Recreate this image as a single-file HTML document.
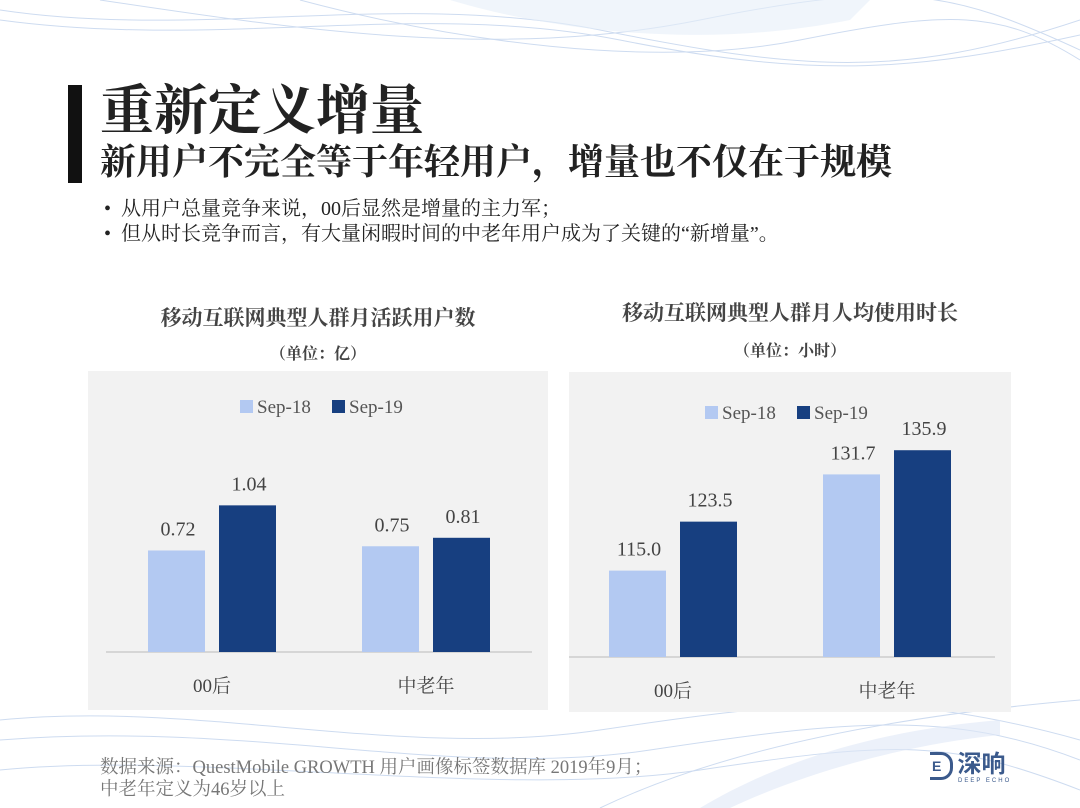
<!DOCTYPE html>
<html><head><meta charset="utf-8"><style>
body{margin:0;width:1080px;height:808px;overflow:hidden;background:#fff;position:relative;font-family:"Liberation Serif","Noto Serif CJK SC",serif;color:#222}
.abs{position:absolute}
</style></head><body>
<svg class="abs" style="left:0;top:0" width="1080" height="808">
<g fill="none" stroke="#b9cdea" stroke-width="1" opacity="0.7">
<path d="M0 10 C200 40 400 -10 600 30 S900 80 1080 20"/>
<path d="M0 20 C220 50 420 0 620 40 S920 70 1080 35"/>
<path d="M100 0 C300 30 500 60 700 20 S950 -10 1080 50"/>
<path d="M300 0 C450 40 650 70 800 40 S1000 10 1080 60"/>
<path d="M0 720 C200 700 400 760 600 730 S900 690 1080 740"/>
<path d="M0 740 C250 720 450 780 650 750 S950 710 1080 760"/>
<path d="M0 770 C200 750 500 800 700 770 S950 740 1080 790"/>
<path d="M600 808 C700 760 850 720 1080 700"/>
</g>
<path d="M700 808 C780 760 880 730 1000 720 L1000 735 C900 745 800 775 730 808Z" fill="#dfe8f6" opacity="0.6"/>
<path d="M450 0 C550 30 700 50 850 20 L870 0Z" fill="#e6eef9" opacity="0.6"/>
</svg>
<div class="abs" style="left:68px;top:85px;width:14px;height:98px;background:#111"></div>
<div class="abs" style="left:100px;top:80px;font-size:54px;font-weight:bold;line-height:62px">重新定义增量</div>
<div class="abs" style="left:100px;top:140px;font-size:36px;font-weight:bold;line-height:44px">新用户不完全等于年轻用户，增量也不仅在于规模</div>
<div class="abs" style="left:104px;top:196px;font-size:20px;line-height:26px">•&nbsp;&nbsp;从用户总量竞争来说，00后显然是增量的主力军；</div>
<div class="abs" style="left:104px;top:221px;font-size:20px;line-height:26px">•&nbsp;&nbsp;但从时长竞争而言，有大量闲暇时间的中老年用户成为了关键的“新增量”。</div>
<div class="abs" style="left:88px;width:460px;top:302px;text-align:center;font-size:21px;font-weight:bold;color:#444">移动互联网典型人群月活跃用户数</div>
<div class="abs" style="left:88px;width:460px;top:341px;text-align:center;font-size:16px;font-weight:bold;color:#444">（单位：亿）</div>
<div class="abs" style="left:569px;width:442px;top:297px;text-align:center;font-size:21px;font-weight:bold;color:#444">移动互联网典型人群月人均使用时长</div>
<div class="abs" style="left:569px;width:442px;top:338px;text-align:center;font-size:16px;font-weight:bold;color:#444">（单位：小时）</div>
<svg class="abs" id="c" style="left:0;top:0" width="1080" height="808"></svg>
<div class="abs" style="left:100px;top:757px;font-size:18.5px;line-height:22px;color:#777">数据来源：QuestMobile GROWTH 用户画像标签数据库 2019年9月；<br>中老年定义为46岁以上</div>
<div class="abs" style="left:930px;top:752px;color:#3b5a8c;font-family:'Liberation Sans','Noto Sans CJK SC',sans-serif">
<span style="font-weight:bold;border:3px solid #3b5a8c;border-left:none;border-radius:0 12px 12px 0;padding:0 2px;line-height:22px;display:inline-block;width:16px;height:22px;vertical-align:top;font-size:14px">E</span>
<span style="font-size:24px;font-weight:bold;vertical-align:top;line-height:26px">深响</span>
<div style="font-size:6px;letter-spacing:2px;position:absolute;left:28px;top:26px;white-space:nowrap">DEEP ECHO</div></div>
<script>
const categories=["00后","中老年"];
const seriesNames=["Sep-18","Sep-19"];
const leftS18=[0.72,0.75];
const leftS19=[1.04,0.81];
const leftLabels18=["0.72","0.75"];
const leftLabels19=["1.04","0.81"];
const rightS18=[115.0,131.7];
const rightS19=[123.5,135.9];
const rightLabels18=["115.0","131.7"];
const rightLabels19=["123.5","135.9"];
const colors=["#b3c9f2","#173f80"];
const svg=document.getElementById('c');
const NS='http://www.w3.org/2000/svg';
function mk(t,a){const e=document.createElementNS(NS,t);for(const k in a)e.setAttribute(k,a[k]);svg.appendChild(e);return e;}
function chart(o){
  const bg=mk('rect',{x:o.x,y:o.y,width:o.w,height:o.h,fill:'#f2f2f2'});
  
  
  const yScale=v=>o.base-(v-o.min)*o.k;
  const ax=mk('line',{x1:o.x+o.axL,x2:o.x+o.w-o.axR,y1:o.base,y2:o.base,stroke:'#ccc','stroke-width':1.5});
  
  
  seriesNames.forEach((s,i)=>{
    const lx=o.legX+i*92;
    const r=mk('rect',{x:lx,y:o.legY-13,width:13,height:13,fill:colors[i]});
    
    
    const t=mk('text',{x:lx+17,y:o.legY,'font-size':19,fill:'#555'});
    t.textContent=s;
    
    
  });
  const series=[o.s18,o.s19],labs=[o.l18,o.l19];
  categories.forEach((c,ci)=>{
    series.forEach((sv,si)=>{
      const bx=o.catX[ci]+si*71, y=yScale(sv[ci]);
      const b=mk('rect',{x:bx,y:y,width:57,height:o.base-y,fill:colors[si]});
      
      
      const t=mk('text',{x:bx+30,y:y-15,'font-size':20,fill:'#444','text-anchor':'middle'});
      t.textContent=labs[si][ci];
      
      
    });
    const t=mk('text',{x:o.catX[ci]+64,y:o.base+40,'font-size':19,fill:'#444','text-anchor':'middle'});
    t.textContent=c;
    
    
  });
}
chart({name:'left-chart',x:88,y:371,w:460,h:339,axL:18,axR:16,base:652,min:0,k:141,legX:240,legY:413,catX:[148,362],s18:leftS18,s19:leftS19,l18:leftLabels18,l19:leftLabels19});
chart({name:'right-chart',x:569,y:372,w:442,h:340,axL:0,axR:16,base:657,min:100,k:5.76,legX:705,legY:419,catX:[609,823],s18:rightS18,s19:rightS19,l18:rightLabels18,l19:rightLabels19});
</script>
</body></html>
